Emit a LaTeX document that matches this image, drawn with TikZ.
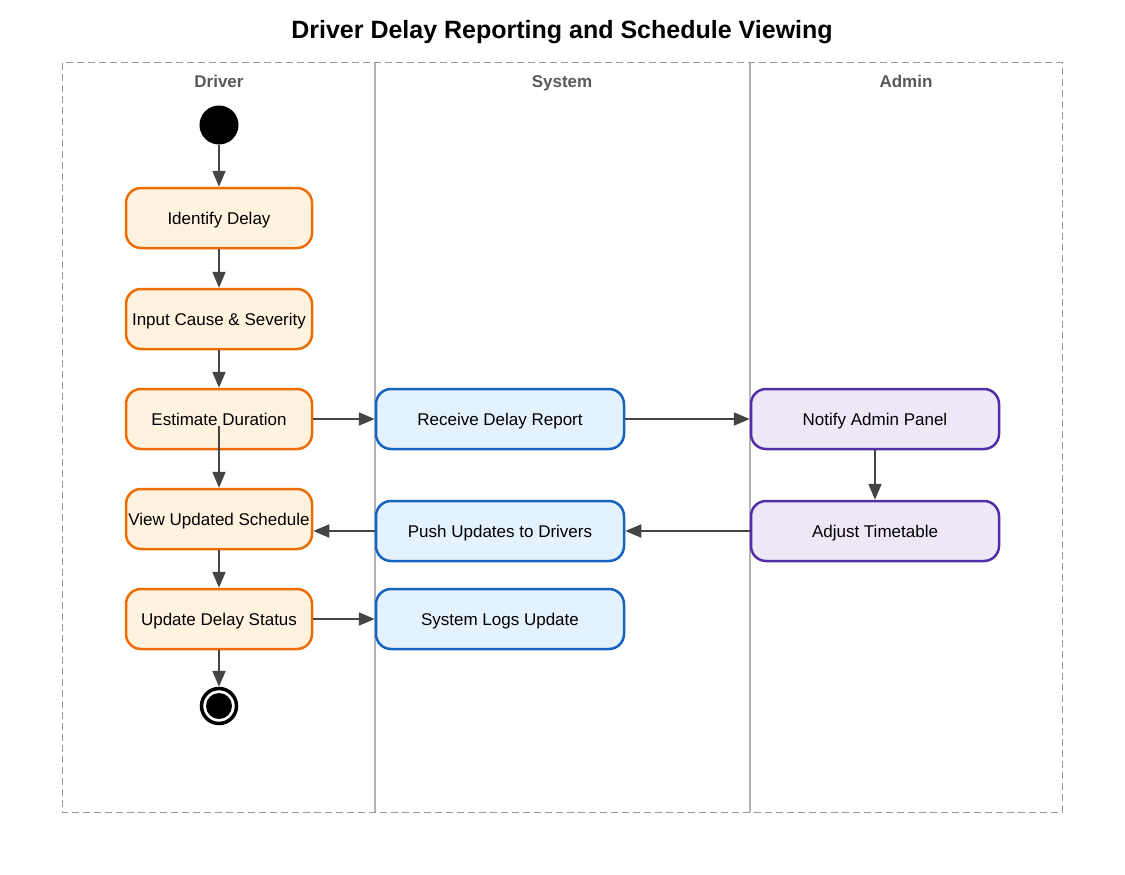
\documentclass[tikz,border=0pt]{standalone}
\usepackage{fontspec}
\setmainfont{Liberation Sans}
\usetikzlibrary{arrows.meta}

\definecolor{drvline}{HTML}{EF6C00}
\definecolor{drvfill}{HTML}{FFF3E0}
\definecolor{sysline}{HTML}{1565C0}
\definecolor{sysfill}{HTML}{E3F2FD}
\definecolor{admline}{HTML}{512DA8}
\definecolor{admfill}{HTML}{EDE7F6}
\definecolor{arrowgray}{HTML}{444444}

\tikzset{
  act/.style={rectangle, rounded corners=15pt, line width=2.5pt, minimum height=60pt,
    align=center, inner sep=0pt, text height=16.5pt, text depth=3.5pt,
    font=\fontsize{17}{20}\selectfont},
  drv/.style={act, draw=drvline, fill=drvfill, minimum width=186pt},
  sys/.style={act, draw=sysline, fill=sysfill, minimum width=248pt},
  adm/.style={act, draw=admline, fill=admfill, minimum width=248pt},
  flow/.style={draw=arrowgray, line width=2pt, -{Triangle[length=16pt,width=13pt]}},
  lanehead/.style={anchor=base, font=\bfseries\fontsize{17}{20}\selectfont, text=black!65},
}

\begin{document}
\begin{tikzpicture}[x=1pt,y=-1pt]
          \useasboundingbox (0,0) rectangle (1125,875);

          % Title
          \node (title) [anchor=base, font=\bfseries\fontsize{25}{30}\selectfont] at (562,39)
            {Driver Delay Reporting and Schedule Viewing};

          % Lanes
          \draw [black!40, dash pattern=on 7pt off 4pt, line width=1pt]
            (62,63) rectangle (1062,812);
          \draw [black!30, line width=2pt] (375,63) -- (375,812);
          \draw [black!30, line width=2pt] (750,63) -- (750,812);
          \node (hdrv) [lanehead] at (219,88) {Driver};
          \node (hsys) [lanehead] at (562,88) {System};
          \node (hadm) [lanehead] at (906,88) {Admin};

          % Driver
          \node (start) [circle, fill=black, minimum size=39pt, inner sep=0pt] at (219,125) {};
          \node (idf) [drv] at (219,218) {Identify Delay};
          \node (inp) [drv] at (219,319) {Input Cause \& Severity};
          \node (est) [drv] at (219,419) {Estimate Duration};
          \node (view) [drv] at (219,519) {View Updated Schedule};
          \node (upd) [drv] at (219,619) {Update Delay Status};
          \node (end) [circle, draw=black, line width=3.5pt, fill=white, minimum size=35pt,
            inner sep=0pt] at (219,706) {};
          \fill (end.center) circle (13);

          % System
          \node (recv) [sys] at (500,419) {Receive Delay Report};
          \node (push) [sys] at (500,531) {Push Updates to Drivers};
          \node (logs) [sys] at (500,619) {System Logs Update};

          % Admin
          \node (notify) [adm] at (875,419) {Notify Admin Panel};
          \node (adjust) [adm] at (875,531) {Adjust Timetable};

          % Flows
          \draw [flow] (start) -- (idf);
          \draw [flow] (idf) -- (inp);
          \draw [flow] (inp) -- (est);
          \draw [flow] ([yshift=-7pt]est.center) -- (view);
          \draw [flow] (est) -- (recv);
          \draw [flow] (recv) -- (notify);
          \draw [flow] (notify) -- (adjust);
          \draw [flow] (adjust) -- (push);
          \draw [flow] (push.west) -- (view.east |- push.west);
          \draw [flow] (view) -- (upd);
          \draw [flow] (upd) -- (logs);
          \draw [flow] (upd) -- (end);
        \end{tikzpicture}
\end{document}
